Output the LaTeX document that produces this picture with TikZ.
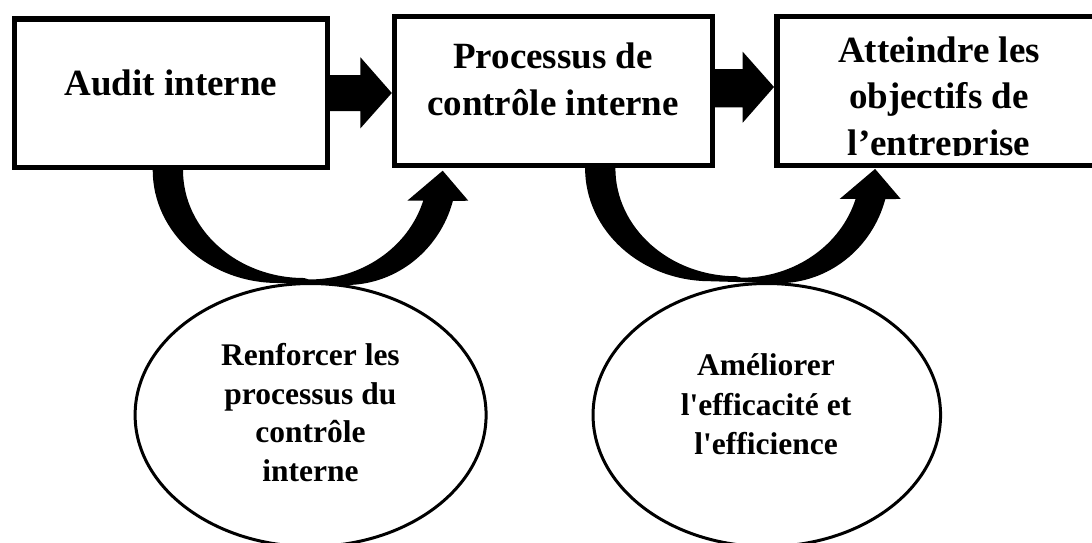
\documentclass[tikz,border=0pt]{standalone}
\usepackage{fontspec}
\setmainfont{Liberation Serif}[Ligatures={TeX,CommonOff}]
\usetikzlibrary{shapes.geometric,calc}
\begin{document}
\begin{tikzpicture}[x=1pt,y=-1pt,
  box/.style={draw,line width=5.5pt,rectangle,inner sep=0pt},
  oval/.style={draw,line width=3pt,ellipse,inner sep=0pt},
  big/.style={font=\fontsize{37}{44}\selectfont\bfseries,inner sep=0pt,anchor=base},
  small/.style={font=\fontsize{31.5}{38}\selectfont\bfseries,inner sep=0pt,anchor=base},
  pics/curvedup/.style={code={
    \fill (0,0) arc[start angle=180,end angle=90,x radius=125.3,y radius=113]
      -- (193.3,115) arc[start angle=90,end angle=15.6,x radius=111,y radius=115]
      -- (315.6,30.7) -- (290,0.7) -- (254.6,30.7) -- (270.5,30.7)
      arc[start angle=16.3,end angle=90,x radius=119,y radius=109.5]
      -- (151.3,108) arc[start angle=90,end angle=180,x radius=121,y radius=108]
      -- cycle;
  }}
]
\useasboundingbox (0,0) rectangle (1092,542);

% boxes
\node[box,minimum width=313,minimum height=148.5] (b1) at (170.75,93) {};
\node[box,minimum width=317.7,minimum height=148.75] (b2) at (553.4,91.1) {};
\node[box,minimum width=324.5,minimum height=148.75] (b3) at (939,91.1) {};

% box texts
\node[big] (t1) at (171,95) {Audit interne};
\node[big] (t2a) at (553,68.3) {Processus de};
\node[big] (t2b) at (553,115) {contrôle interne};
\node[big] (t3a) at (939,62.7) {Atteindre les};
\node[big] (t3b) at (939,108.3) {objectifs de};
\begin{scope}
  \clip (770,120) rectangle (1100,155);
  \node[big] (t3c) at (939,155.5) {l’entreprise};
\end{scope}

% ellipses
\node[oval,minimum width=351,minimum height=263] (e1) at (310.6,415) {};
\node[oval,minimum width=347.5,minimum height=263] (e2) at (766.8,415) {};

\node[small] (e1a) at (310.4,365) {Renforcer les};
\node[small] (e1b) at (310.4,404) {processus du};
\node[small] (e1c) at (310.4,442.7) {contrôle};
\node[small] (e1d) at (310.4,481.7) {interne};

\node[small] (e2a) at (766,375) {Améliorer};
\node[small] (e2b) at (766,415) {l\textquotesingle efficacité et};
\node[small] (e2c) at (766,454) {l\textquotesingle efficience};

% straight block arrows
\path (b1.east -| b2.west) coordinate (tip1) ++(-31.35,0) coordinate (h1);
\fill ($(b1.east)+(0,-18)$) -- ($(h1)+(0,-18)$) -- ($(h1)+(0,-35.7)$) -- (tip1)
  -- ($(h1)+(0,35.3)$) -- ($(h1)+(0,18)$) -- ($(b1.east)+(0,18)$) -- cycle;

\path (b2.east -| b3.west) ++(0,-4.1) coordinate (tip2) ++(-31.3,0) coordinate (h2);
\fill ($(b2.east)+(0,-22.1)$) -- ($(h2)+(0,-18)$) -- ($(h2)+(0,-35.3)$) -- (tip2)
  -- ($(h2)+(0,35.7)$) -- ($(h2)+(0,20.3)$) -- ($(b2.east)+(0,16.2)$) -- cycle;

% curved arrows
\pic at ($(b1.south west)+(141.2,0)$) {curvedup};
\pic at ($(b2.south west)+(193.3,0)$) {curvedup};
\end{tikzpicture}
\end{document}
